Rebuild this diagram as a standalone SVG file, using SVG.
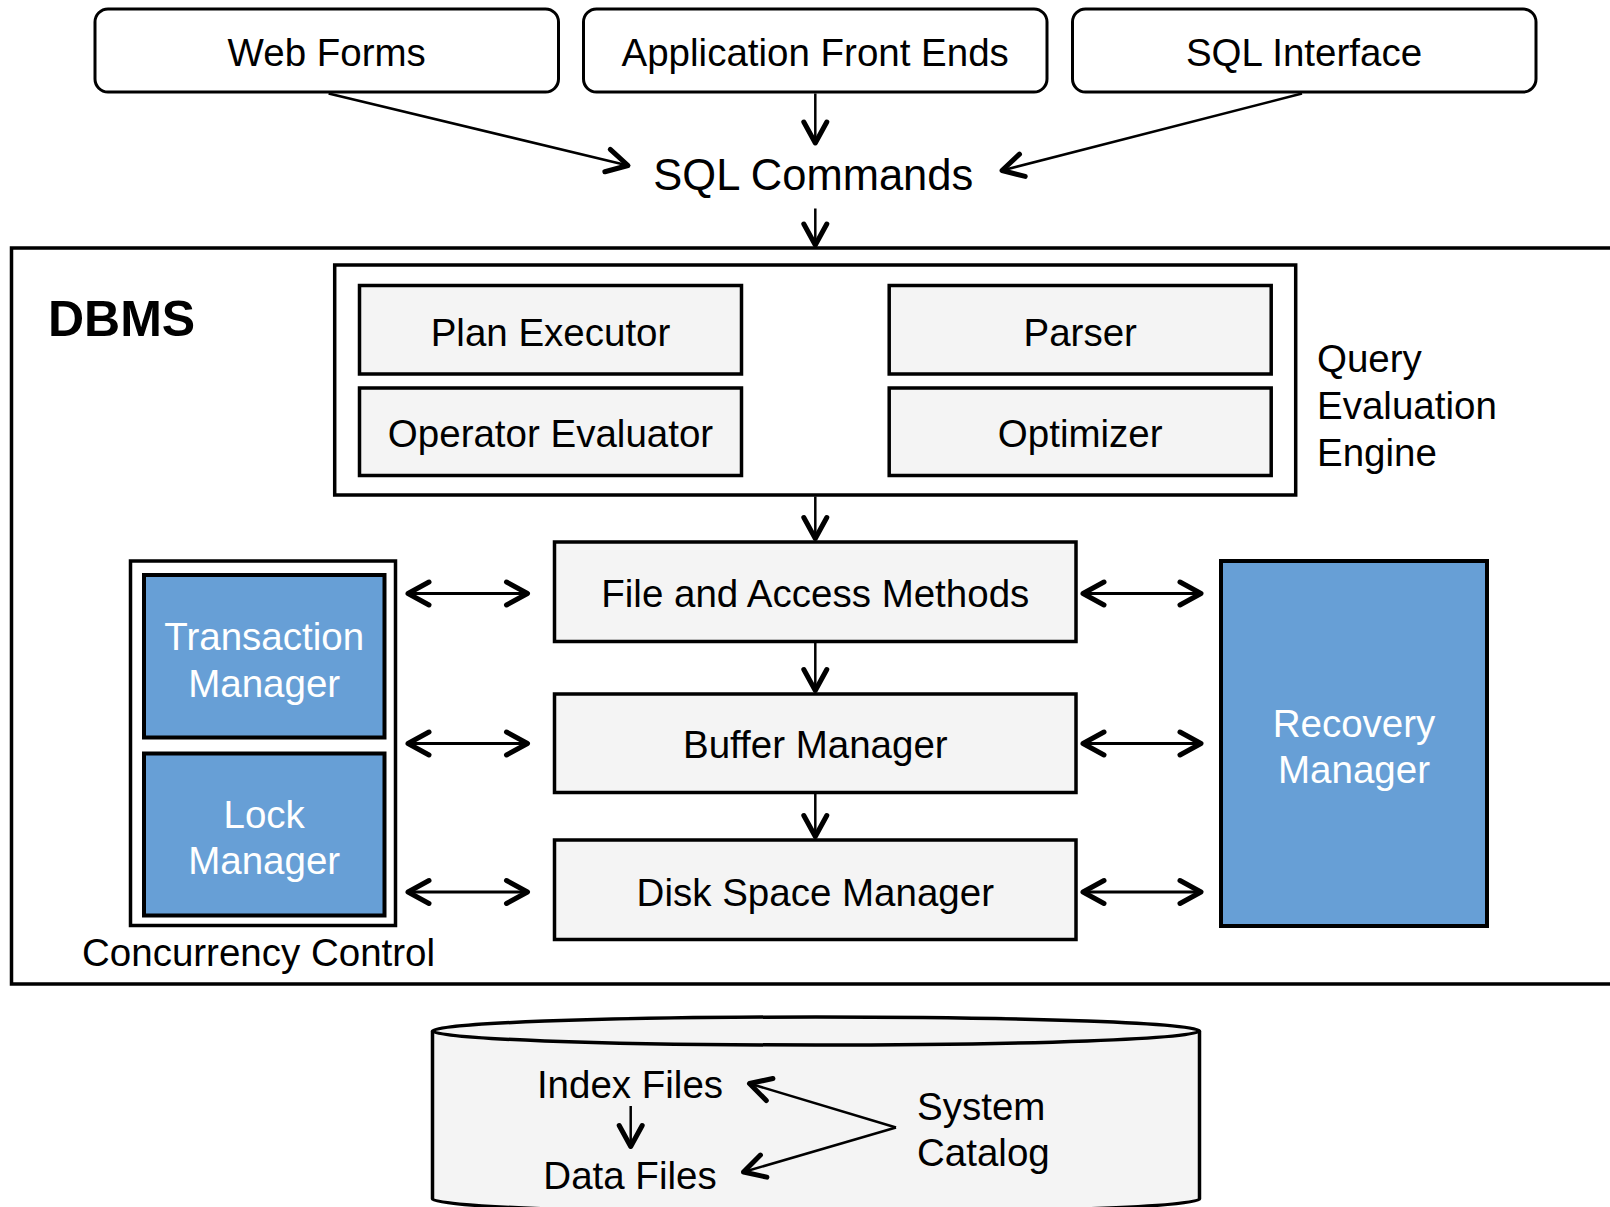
<svg xmlns="http://www.w3.org/2000/svg" width="1610" height="1207" viewBox="0 0 1610 1207">
  <style>
    text { font-family: "Liberation Sans", Arial, sans-serif; font-size: 38.5px; fill: #000; }
    .mid { text-anchor: middle; }
    .white { fill: #fff; }
    .rounded { fill: #fff; stroke: #000; stroke-width: 3; }
    .frame { fill: #fff; stroke: #000; stroke-width: 3.5; }
    .layer { fill: #f4f4f4; stroke: #000; stroke-width: 3.5; }
    .blue { fill: #679fd6; stroke: #000; stroke-width: 4; }
    .link { fill: none; stroke: #000; stroke-width: 2.5; marker-end: url(#head); }
    .both { fill: none; stroke: #000; stroke-width: 3; marker-start: url(#head); marker-end: url(#head); }
  </style>
  <defs>
    <marker id="head" markerUnits="userSpaceOnUse" viewBox="-26 -16 30 32" markerWidth="30" markerHeight="32" refX="0" refY="0" orient="auto-start-reverse">
      <path d="M -21 -11.5 L 0 0 L -21 11.5" fill="none" stroke="#000" stroke-width="5" stroke-linecap="round" stroke-linejoin="round"/>
    </marker>
  </defs>

  <!-- client applications -->
  <g id="web-forms">
    <rect class="rounded" x="95" y="9" width="463.5" height="83" rx="13"/>
    <text class="mid" x="326.7" y="66">Web Forms</text>
  </g>
  <g id="app-front-ends">
    <rect class="rounded" x="583.5" y="9" width="463.5" height="83" rx="13"/>
    <text class="mid" x="815.2" y="66">Application Front Ends</text>
  </g>
  <g id="sql-interface">
    <rect class="rounded" x="1072.5" y="9" width="463.5" height="83" rx="13"/>
    <text class="mid" x="1304" y="66">SQL Interface</text>
  </g>
  <g id="sql-commands">
    <text class="mid" x="813.3" y="189.5" style="font-size:43.5px">SQL Commands</text>
  </g>

  <!-- DBMS container -->
  <g id="dbms">
    <rect class="frame" x="11.5" y="248" width="1620" height="736"/>
    <text x="48" y="335.5" style="font-weight:bold;font-size:50px">DBMS</text>
  </g>

  <!-- query evaluation engine -->
  <g id="query-engine">
    <rect class="frame" x="334.7" y="265" width="961" height="230"/>
    <text x="1317" y="372">Query</text>
    <text x="1317" y="419">Evaluation</text>
    <text x="1317" y="466">Engine</text>
  </g>
  <g id="plan-executor">
    <rect class="layer" x="359.5" y="285.5" width="382" height="88.5"/>
    <text class="mid" x="550.5" y="345.5">Plan Executor</text>
  </g>
  <g id="operator-evaluator">
    <rect class="layer" x="359.5" y="388" width="382" height="87.5"/>
    <text class="mid" x="550.5" y="447">Operator Evaluator</text>
  </g>
  <g id="parser">
    <rect class="layer" x="889.2" y="285.5" width="382" height="88.5"/>
    <text class="mid" x="1080.2" y="345.5">Parser</text>
  </g>
  <g id="optimizer">
    <rect class="layer" x="889.2" y="388" width="382" height="87.5"/>
    <text class="mid" x="1080.2" y="447">Optimizer</text>
  </g>

  <!-- storage layers -->
  <g id="file-access-methods">
    <rect class="layer" x="554.5" y="542" width="521.5" height="99.5"/>
    <text class="mid" x="815.3" y="607">File and Access Methods</text>
  </g>
  <g id="buffer-manager">
    <rect class="layer" x="554.5" y="694" width="521.5" height="98.5"/>
    <text class="mid" x="815.3" y="758">Buffer Manager</text>
  </g>
  <g id="disk-space-manager">
    <rect class="layer" x="554.5" y="840" width="521.5" height="99.5"/>
    <text class="mid" x="815.3" y="906">Disk Space Manager</text>
  </g>

  <!-- concurrency control -->
  <g id="concurrency-control">
    <rect class="frame" x="130.5" y="561" width="265" height="364.5"/>
    <text x="82" y="966">Concurrency Control</text>
  </g>
  <g id="transaction-manager">
    <rect class="blue" x="144" y="575" width="240.5" height="162.5"/>
    <text class="mid white" x="264.2" y="650">Transaction</text>
    <text class="mid white" x="264.2" y="697">Manager</text>
  </g>
  <g id="lock-manager">
    <rect class="blue" x="144" y="753.5" width="240.5" height="162"/>
    <text class="mid white" x="264.2" y="827.5">Lock</text>
    <text class="mid white" x="264.2" y="874">Manager</text>
  </g>

  <!-- recovery -->
  <g id="recovery-manager">
    <rect class="blue" x="1221" y="561" width="266" height="365"/>
    <text class="mid white" x="1354" y="736.5">Recovery</text>
    <text class="mid white" x="1354" y="783">Manager</text>
  </g>

  <!-- on-disk storage -->
  <g id="storage">
    <path d="M432.5,1031 L432.5,1199 A383.5,14 0 0 0 1199.5,1199 L1199.5,1031 A383.5,14 0 0 0 432.5,1031 Z" fill="#f4f4f4" stroke="#000" stroke-width="3.5"/>
    <path d="M432.5,1031 A383.5,14 0 0 0 1199.5,1031" fill="none" stroke="#000" stroke-width="3.5"/>
    <text class="mid" x="630" y="1097.5">Index Files</text>
    <text class="mid" x="630" y="1189">Data Files</text>
    <text x="917" y="1119.5">System</text>
    <text x="917" y="1166">Catalog</text>
  </g>

  <!-- connectors -->
  <g id="connectors">
    <line class="link" x1="328.6" y1="93.5" x2="628" y2="165.5"/>
    <line class="link" x1="815.3" y1="93.5" x2="815.3" y2="143"/>
    <line class="link" x1="1302" y1="93.5" x2="1002" y2="170.5"/>
    <line class="link" x1="815.3" y1="208.5" x2="815.3" y2="245"/>
    <line class="link" x1="815.3" y1="496.5" x2="815.3" y2="538.5"/>
    <line class="link" x1="815.3" y1="643" x2="815.3" y2="690.5"/>
    <line class="link" x1="815.3" y1="794" x2="815.3" y2="836.5"/>

    <line class="both" x1="408" y1="593.5" x2="527.5" y2="593.5"/>
    <line class="both" x1="408" y1="743.5" x2="527.5" y2="743.5"/>
    <line class="both" x1="408" y1="892" x2="527.5" y2="892"/>
    <line class="both" x1="1083" y1="593.5" x2="1201" y2="593.5"/>
    <line class="both" x1="1083" y1="743.5" x2="1201" y2="743.5"/>
    <line class="both" x1="1083" y1="892" x2="1201" y2="892"/>

    <line class="link" x1="630.7" y1="1106" x2="630.7" y2="1146.5"/>
    <polyline class="link" points="896,1127.5 749.5,1083.5"/>
    <polyline class="link" points="896,1127.5 743.5,1172"/>
  </g>
</svg>
